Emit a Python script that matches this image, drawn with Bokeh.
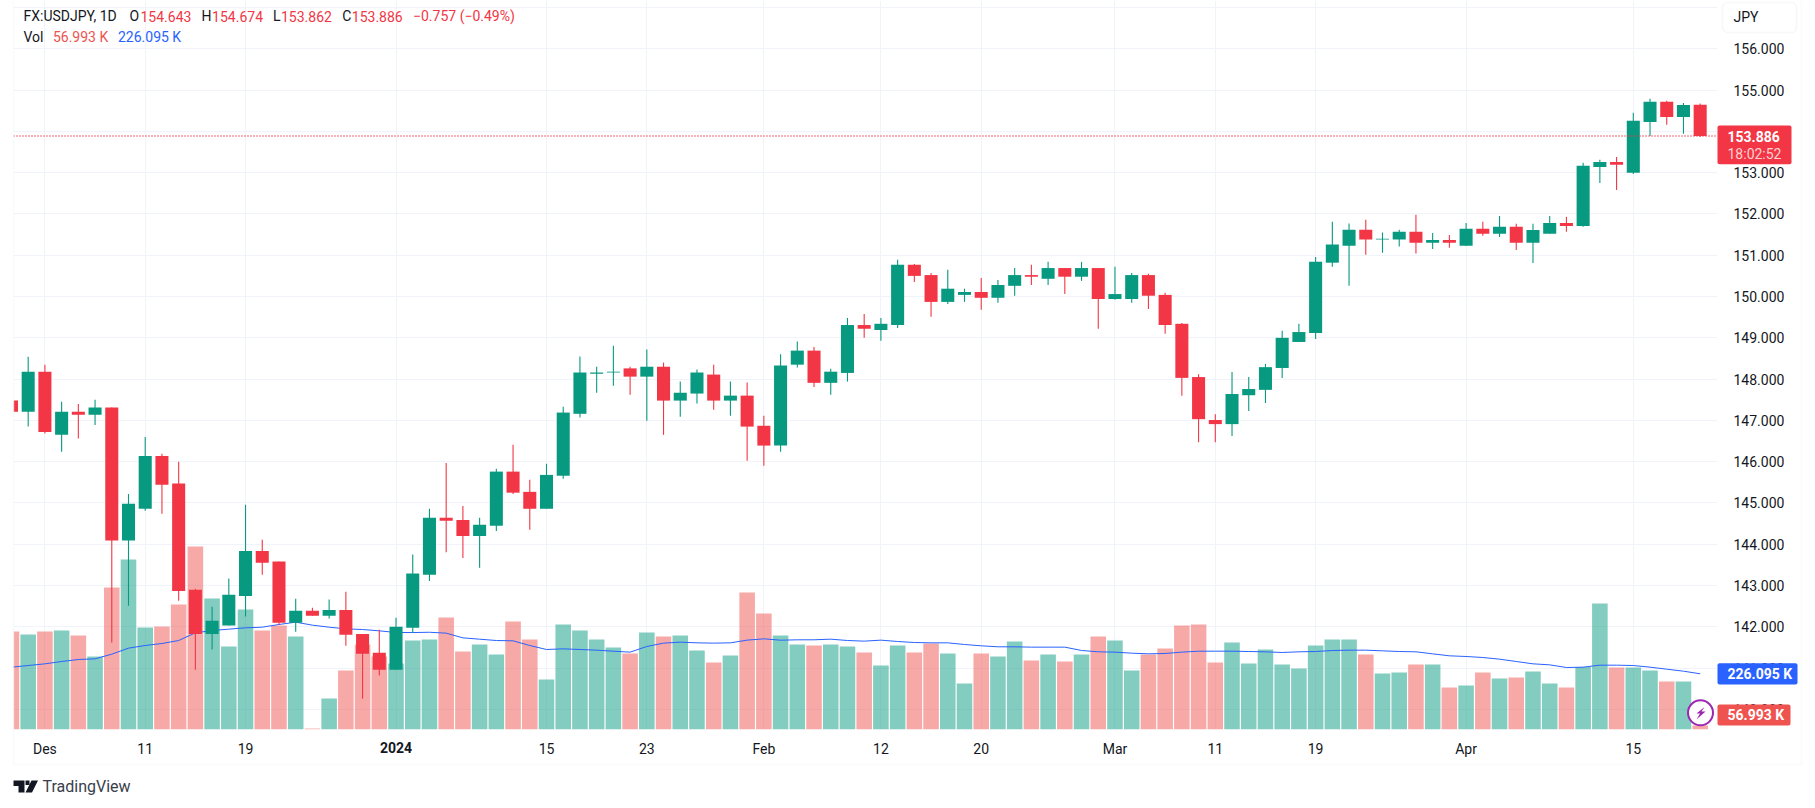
from bokeh.embed import file_html
from bokeh.resources import INLINE
from bokeh.layouts import column
from bokeh.plotting import figure
from bokeh.models import (Range1d, FixedTicker, NumeralTickFormatter, Label, BoxAnnotation,
                          PolyAnnotation, ColumnDataSource)

BAR = list(range(-2, 100))
O = [147.48,147.21,148.18,146.65,147.21,147.14,147.31,144.09,144.86,146.14,145.47,142.90,141.83,142.03,142.75,143.84,143.58,142.10,142.39,142.27,142.41,141.83,141.37,140.96,
     141.98,143.26,144.64,144.59,144.20,144.45,145.76,145.27,144.86,145.66,147.16,148.13,148.16,148.26,148.06,148.30,147.48,147.65,148.11,147.48,147.60,146.87,146.39,148.35,
     148.69,147.91,148.15,149.31,149.19,149.31,150.77,150.52,149.87,150.04,150.11,149.97,150.26,150.52,150.43,150.69,150.48,150.69,149.94,149.94,150.52,150.04,149.34,148.05,147.01,
     146.91,147.61,147.74,148.27,148.90,149.12,150.82,151.23,151.62,151.38,151.38,151.57,151.30,151.37,151.23,151.64,151.52,151.69,151.30,151.52,151.78,151.71,153.14,153.26,153.00,154.23,154.72,154.35,154.643]
H = [147.48,148.54,148.35,147.45,147.40,147.50,147.31,145.22,146.60,146.19,146.00,142.92,142.49,143.17,144.96,144.11,143.58,142.68,142.46,142.66,142.85,141.83,141.93,142.22,
     143.75,144.86,145.97,144.93,144.64,145.83,146.41,145.56,145.95,147.33,148.55,148.30,148.81,148.30,148.72,148.40,147.94,148.23,148.35,147.94,147.92,147.11,148.60,148.91,
     148.78,148.25,149.48,149.58,149.48,150.89,150.79,150.57,150.65,150.19,150.45,150.40,150.69,150.77,150.84,150.69,150.84,150.69,150.72,150.57,150.55,150.09,149.36,148.12,147.15,
     148.17,148.05,148.37,149.17,149.34,150.96,151.81,151.77,151.86,151.55,151.62,151.98,151.54,151.49,151.78,151.81,151.95,151.76,151.76,151.95,151.93,153.24,153.31,153.38,154.45,154.79,154.74,154.69,154.674]
L = [147.21,146.85,146.68,146.24,146.56,146.89,141.62,142.51,144.81,144.74,142.63,140.96,141.45,142.03,142.25,143.26,142.05,141.88,142.27,142.20,141.54,140.26,140.82,140.96,
     141.86,143.11,143.81,143.67,143.43,144.32,145.22,144.35,144.86,145.59,147.07,147.67,147.84,147.62,146.99,146.65,147.09,147.41,147.26,147.11,146.02,145.90,146.24,148.28,
     147.81,147.62,147.94,149.00,148.93,149.24,150.35,149.51,149.82,149.87,149.68,149.85,150.02,150.28,150.28,150.06,150.38,149.22,149.92,149.85,149.70,149.10,147.60,146.47,146.47,
     146.62,147.23,147.42,148.03,148.90,148.97,150.72,150.26,151.01,151.06,151.21,151.04,151.15,151.18,151.23,151.47,151.44,151.13,150.81,151.52,151.57,151.69,152.75,152.58,152.97,153.89,154.16,153.94,153.862]
C = [147.21,148.18,146.72,147.21,147.14,147.31,144.09,144.98,146.14,145.44,142.87,141.83,142.15,142.78,143.84,143.55,142.10,142.39,142.27,142.41,141.81,141.35,140.96,142.00,
     143.29,144.64,144.57,144.20,144.47,145.76,145.25,144.86,145.68,147.19,148.16,148.16,148.18,148.06,148.30,147.48,147.67,148.16,147.48,147.60,146.85,146.39,148.33,148.69,
     147.91,148.18,149.31,149.22,149.34,150.77,150.50,149.87,150.19,150.11,149.97,150.28,150.52,150.48,150.69,150.48,150.69,149.94,150.06,150.52,150.02,149.31,148.03,147.03,146.91,
     147.64,147.76,148.29,149.00,149.14,150.84,151.26,151.62,151.38,151.40,151.57,151.30,151.37,151.30,151.64,151.52,151.69,151.30,151.61,151.78,151.71,153.17,153.26,153.19,154.26,154.72,154.35,154.64,153.886]
VOL = [364.5,354.7,364.5,367.8,351.4,282.7,508.4,600.0,377.5,380.8,452.8,642.5,472.4,315.4,436.4,367.8,384.1,348.1,47.0,145.3,236.9,321.9,282.7,259.8,
       335.0,338.2,410.2,299.0,322.0,289.2,397.0,338.2,207.4,387.3,367.7,338.2,312.2,292.6,361.2,348.2,351.4,302.4,263.1,286.0,492.0,423.4,351.4,322.0,
       318.7,322.0,315.4,295.8,253.3,318.7,295.8,325.3,292.6,194.4,292.6,282.7,331.8,269.7,289.3,266.4,289.3,348.2,335.1,236.9,289.3,308.9,384.1,387.4,263.1,
       328.5,259.8,305.6,256.5,243.4,318.7,338.3,338.3,289.2,227.1,230.4,256.5,256.5,181.3,187.8,230.4,210.7,214.0,233.6,194.4,181.3,248.0,456.0,246.7,246.7,236.9,200.9,200.9,56.993]
VOL_MA = [247.8,253.2,258.7,266.3,272.9,275.0,290.3,310.0,318.7,325.2,335.0,360.1,367.7,372.1,376.5,378.6,387.4,395.0,385.2,378.6,373.2,371.0,366.6,361.2,
          361.0,362.0,359.0,343.7,339.3,335.0,334.0,318.6,305.6,307.7,305.6,303.4,300.0,297.0,315.4,326.4,329.6,327.4,326.4,327.4,336.2,340.5,336.0,337.3,
          337.3,339.4,335.0,332.9,336.2,331.8,328.5,327.4,327.4,322.0,317.6,314.4,314.4,313.3,313.3,313.3,302.4,298.0,297.0,293.6,291.5,292.6,297.0,300.0,300.1,
          300.1,299.0,298.0,295.8,298.0,299.0,302.3,303.4,303.4,301.2,299.0,298.0,291.4,284.9,282.7,279.4,274.0,266.3,258.7,255.4,246.7,247.8,254.3,254.3,253.2,247.8,241.2,234.7,226.095]
TICK_BARS = [0, 6, 12, 30, 36, 43, 50, 56, 64, 70, 76, 85, 95]
TICK_LABELS = ["Des", "11", "19", "15", "23", "Feb", "12", "20", "Mar", "11", "19", "Apr", "15"]
YEAR_BAR = 21
YEAR_LABEL = "2024"
PRICE_TICKS = list(range(140, 157))
GRID_PRICES = list(range(140, 158))
LAST_CLOSE = 153.886
VOL_NOW = 56.993
VOL_MA_NOW = 226.095
GREEN, RED = "#089981", "#f23645"
VGREEN, VRED = "#089981", "#ef5350"
FONT = "Roboto"
INK = "#131722"

# pixel -> data helpers for the main pane
X = lambda px: (px - 44.4) / 16.72
Y = lambda py: 156 - (py - 48.3) / 41.29
VY = lambda py: 56.993 + (725 - py) * 3.271

W, HT = 1810, 800
p = figure(width=W, height=HT, output_backend="svg", toolbar_location=None,
           x_range=Range1d(X(13), X(1717)), y_range=Range1d(Y(729), Y(0)),
           y_axis_location="right", min_border_left=13, min_border_right=W - 1717,
           min_border_top=0, min_border_bottom=HT - 729)
p.frame_align = False
p.outline_line_color = None
p.background_fill_color = "#ffffff"
p.extra_y_ranges = {"vol": Range1d(VY(729), VY(0))}

p.xaxis.ticker = FixedTicker(ticks=TICK_BARS)
p.xaxis.major_label_overrides = dict(zip(TICK_BARS, TICK_LABELS))
p.yaxis.ticker = FixedTicker(ticks=PRICE_TICKS)
p.yaxis.formatter = NumeralTickFormatter(format="0.000")
for ax in (p.xaxis[0], p.yaxis[0]):
    ax.axis_line_color = None
    ax.major_tick_line_color = None
    ax.minor_tick_line_color = None
    ax.major_label_text_font = FONT
    ax.major_label_text_font_size = "14px"
    ax.major_label_text_color = INK
p.xaxis.major_label_standoff = 5
p.yaxis.major_label_standoff = 10
p.xgrid[0].ticker = FixedTicker(ticks=TICK_BARS + [YEAR_BAR])
p.ygrid[0].ticker = FixedTicker(ticks=GRID_PRICES)
for g in (p.xgrid[0], p.ygrid[0]):
    g.grid_line_color = "#f0f3fa"
    g.grid_line_width = 1

up = [c >= o for o, c in zip(O, C)]
src = ColumnDataSource(dict(
    x=BAR, o=O, h=H, l=L, c=C, vol=VOL, ma=VOL_MA,
    top=[max(a, b) for a, b in zip(O, C)], bot=[min(a, b) for a, b in zip(O, C)],
    col=[GREEN if u else RED for u in up],
    vcol=[VGREEN if u else VRED for u in up],
))
p.vbar(x="x", top="vol", bottom=VY(729), width=0.93, source=src, y_range_name="vol",
       fill_color="vcol", fill_alpha=0.5, line_color=None)
p.line(x="x", y="ma", source=src, y_range_name="vol", line_color="#2962ff", line_width=1)
p.segment(x0="x", x1="x", y0="l", y1="h", source=src, line_color="col", line_width=1.1)
p.vbar(x="x", top="top", bottom="bot", width=0.78, source=src, fill_color="col", line_color=None)
p.line(x=[X(13), X(1717)], y=[LAST_CLOSE, LAST_CLOSE], line_color=RED, line_width=1.5, line_dash="1 2")

# transparent overlay in page pixels, for what sits outside the plot pane
q = figure(width=W, height=HT, output_backend="svg", toolbar_location=None,
           x_range=Range1d(0, W), y_range=Range1d(HT, 0), x_axis_type=None, y_axis_type=None,
           min_border=0, min_border_left=0, min_border_right=0, min_border_top=0, min_border_bottom=0)
q.frame_align = False
q.outline_line_color = None
q.background_fill_alpha = 0
q.border_fill_alpha = 0
q.grid.visible = False
q.margin = (-HT, 0, 0, 0)


def box(l, r, t, b, fill, line=None, lw=1, radius=0):
    q.add_layout(BoxAnnotation(left=l, right=r, top=t, bottom=b, fill_color=fill, fill_alpha=1 if fill else 0,
                               line_color=line, line_width=lw, border_radius=radius))


def text(px, py, s, color=INK, size="14px", style="normal", align="left"):
    q.add_layout(Label(x=px, y=py, text=s, text_color=color, text_font=FONT, text_font_size=size,
                       text_font_style=style, text_align=align, text_baseline="middle"))


# frame
box(13, 1801, -12, 764, None, "#f0f3fa", 2)
# currency button
box(1722, 1796, 2, 32, "#ffffff", "#e0e3eb", 1.5, 5)
text(1733, 16.7, "JPY", size="14px")
# last price tag
box(1717, 1791, 125, 163.7, RED, radius=2)
text(1727, 135.7, f"{LAST_CLOSE:.3f}", "#ffffff", style="bold")
text(1727, 153.7, "18:02:52", "#fdd0d4")
# volume tags
box(1717, 1797, 662.7, 684, "#2962ff", radius=2)
text(1727, 673.4, f"{VOL_MA_NOW:.3f} K", "#ffffff", style="bold")
box(1717, 1790, 704, 725, "#ef5350", radius=2)
text(1727, 714.5, f"{VOL_NOW:.3f} K", "#ffffff", style="bold")
# replay badge
q.scatter(x=[1700], y=[712.3], marker="circle", size=25, fill_color="#ffffff", line_color="#9c27b0", line_width=2)
q.add_layout(PolyAnnotation(xs=[1704, 1696, 1699.5, 1696, 1705, 1701], ys=[706.5, 713, 713, 719, 711, 711],
                            fill_color="#9c27b0", fill_alpha=1, line_color=None))
# year tick
text(44.4 + 16.72 * YEAR_BAR, 747, YEAR_LABEL, style="bold", align="center")
# legend rows
text(23, 15.7, "FX:USDJPY, 1D")
for px, s, col in [(129, "O", INK), (140, f"{O[-1]:.3f}", RED), (201, "H", INK), (211.6, f"{H[-1]:.3f}", RED),
                   (272.5, "L", INK), (280.5, f"{L[-1]:.3f}", RED), (341.7, "C", INK), (351.3, f"{C[-1]:.3f}", RED),
                   (412.5, "\u22120.757 (\u22120.49%)", RED)]:
    text(px, 15.7, s, col)
text(23, 36.7, "Vol")
text(52.4, 36.7, f"{VOL_NOW:.3f} K", "#ef5350")
text(117.5, 36.7, f"{VOL_MA_NOW:.3f} K", "#2962ff")
# brand
for xs, ys in [((13, 24, 24, 18, 18, 13), (780, 780, 792, 792, 785.5, 785.5)),
               ((31, 37.5, 31.5, 25), (780, 780, 792, 792)),
               ((25, 29, 29, 25), (780, 780, 784.5, 784.5))]:
    q.add_layout(PolyAnnotation(xs=list(xs), ys=list(ys), fill_color=INK, fill_alpha=1, line_color=None))
text(42, 786, "TradingView", "#3a3e4a", "16px")

open("out.html", "w").write(file_html(column(p, q), INLINE))
